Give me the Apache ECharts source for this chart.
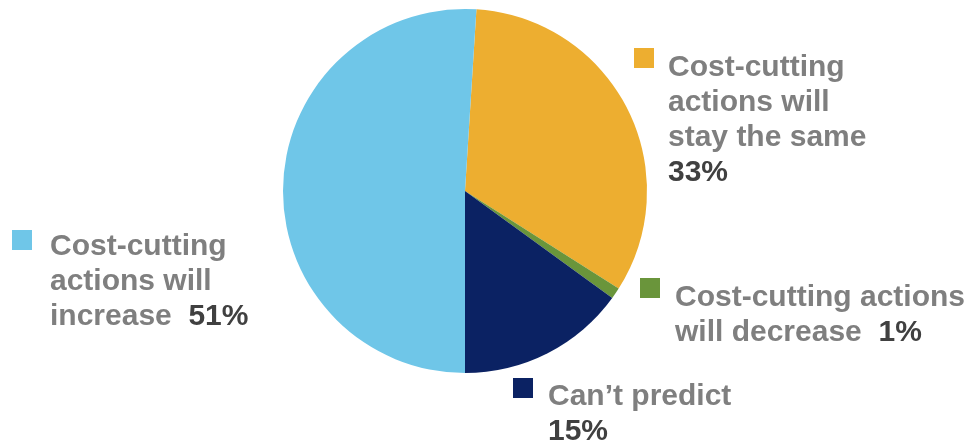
<!DOCTYPE html>
<html>
<head>
<meta charset="utf-8">
<script src="https://cdn.jsdelivr.net/npm/echarts@6/dist/echarts.min.js"></script>
<style>
  html, body { margin: 0; padding: 0; background: #fff; }
  #chart { width: 975px; height: 444px; }
</style>
</head>
<body>
<div id="chart"></div>
<script>
// Outlook on cost-cutting actions (share of respondents, %)
var categories = [
  'Cost-cutting actions will stay the same',
  'Cost-cutting actions will decrease',
  'Can’t predict',
  'Cost-cutting actions will increase'
];
var values = [33, 1, 15, 51];
var colors = ['#edae30', '#6a953b', '#0b2263', '#6fc6e8'];

// Wrapped label text for each slice; the last line is followed by the value
var labelLines = [
  ['Cost-cutting', 'actions will', 'stay the same', ''],
  ['Cost-cutting actions', 'will decrease  '],
  ['Can’t predict', ''],
  ['Cost-cutting', 'actions will', 'increase  ']
];

// Where each label block sits (marker top-left, text top-left)
var labelPlacement = [
  { mx: 634, my: 48,  tx: 668, ty: 53 },
  { mx: 640, my: 278, tx: 675, ty: 283 },
  { mx: 513, my: 378, tx: 548, ty: 382 },
  { mx: 12,  my: 230, tx: 50,  ty: 232 }
];

var chart = echarts.init(document.getElementById('chart'), null, { renderer: 'canvas' });

var font = { fontFamily: 'Liberation Sans, Arial, sans-serif', fontWeight: 'bold', fontSize: 30, lineHeight: 35 };

var graphics = [];
values.forEach(function (v, i) {
  var p = labelPlacement[i];
  var lines = labelLines[i];
  var txt = lines.map(function (l, k) {
    var s = l ? '{t|' + l + '}' : '';
    if (k === lines.length - 1) s += '{v|' + v + '%}';
    return s;
  }).join('\n');
  graphics.push({
    type: 'rect',
    left: p.mx, top: p.my,
    shape: { width: 20, height: 20 },
    style: { fill: colors[i] }
  });
  graphics.push({
    type: 'text',
    left: p.tx, top: p.ty,
    style: {
      text: txt,
      rich: {
        t: Object.assign({ fill: '#7f7f7f' }, font),
        v: Object.assign({ fill: '#404040' }, font)
      }
    }
  });
});

chart.setOption({
  animation: false,
  backgroundColor: '#ffffff',
  graphic: graphics,
  series: [{
    type: 'pie',
    center: [465, 191],
    radius: 182,
    startAngle: 86.4,
    clockwise: true,
    label: { show: false },
    labelLine: { show: false },
    emphasis: { disabled: true },
    itemStyle: { borderWidth: 0 },
    data: values.map(function (v, i) {
      return { name: categories[i], value: v, itemStyle: { color: colors[i] } };
    })
  }]
});
</script>
</body>
</html>
